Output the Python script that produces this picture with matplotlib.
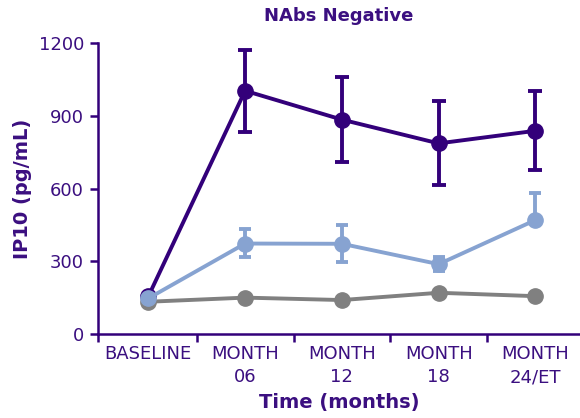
import matplotlib
matplotlib.use("Agg")
import matplotlib.pyplot as plt
import numpy as np

categories = ["BASELINE", "MONTH\n06", "MONTH\n12", "MONTH\n18", "MONTH\n24/ET"]
dark_vals = [155, 1003, 884, 786, 838]
dark_err_lo = [0, 170, 175, 172, 163]
dark_err_hi = [0, 170, 175, 175, 163]
blue_vals = [147, 373, 372, 288, 470]
blue_err_lo = [0, 57, 76, 27, 0]
blue_err_hi = [0, 62, 78, 30, 112]
gray_vals = [133, 150, 140, 170, 156]

purple = "#33007a"
text_purple = "#3b0f80"
blue = "#87a3d1"
gray = "#808080"

plt.rcParams['font.family'] = ['DejaVu Sans']
fig = plt.figure(figsize=(5.8, 4.18), dpi=100)
ax = fig.add_axes([98/580, 84/418, (580-98)/580, (334-43)/418])

x = np.arange(len(categories))
ax.plot(x, gray_vals, color=gray, lw=2.8, marker='o', ms=11, zorder=2, clip_on=False)
ax.errorbar(x, dark_vals, yerr=[dark_err_lo, dark_err_hi], color=purple, lw=2.8,
            marker='o', ms=11, capsize=5, capthick=2.8, elinewidth=2.8, zorder=3, clip_on=False)
ax.errorbar(x, blue_vals, yerr=[blue_err_lo, blue_err_hi], color=blue, lw=2.8,
            marker='o', ms=11, capsize=4.5, capthick=2.8, elinewidth=2.8, zorder=4, clip_on=False)

ax.set_xlim(-0.52, 4.46)
ax.set_ylim(0, 1200)
ax.set_yticks([0, 300, 600, 900, 1200])
ax.set_xticks([-0.52, 0.5, 1.5, 2.5, 3.5])
ax.set_xticklabels([])
ax.set_xticks(x, minor=True)
ax.set_xticklabels(categories, minor=True, linespacing=1.35)
ax.tick_params(axis='x', which='minor', length=0, pad=8, labelsize=13, labelcolor=text_purple)
ax.tick_params(axis='x', which='major', length=6, width=1.8, color=purple, direction='out')
ax.tick_params(axis='y', length=6, width=1.8, color=purple, direction='out', labelsize=13,
               labelcolor=text_purple, pad=4)

for s in ['top', 'right']:
    ax.spines[s].set_visible(False)
for s in ['left', 'bottom']:
    ax.spines[s].set_color(purple)
    ax.spines[s].set_linewidth(1.8)

ax.set_title("NAbs Negative", fontsize=13, fontweight='bold', color=text_purple, pad=16)
ax.set_ylabel("IP10 (pg/mL)", fontsize=14, fontweight='bold', color=text_purple, labelpad=5)
ax.set_xlabel("Time (months)", fontsize=14, fontweight='bold', color=text_purple, labelpad=5)

fig.savefig("out.png", dpi=100)
